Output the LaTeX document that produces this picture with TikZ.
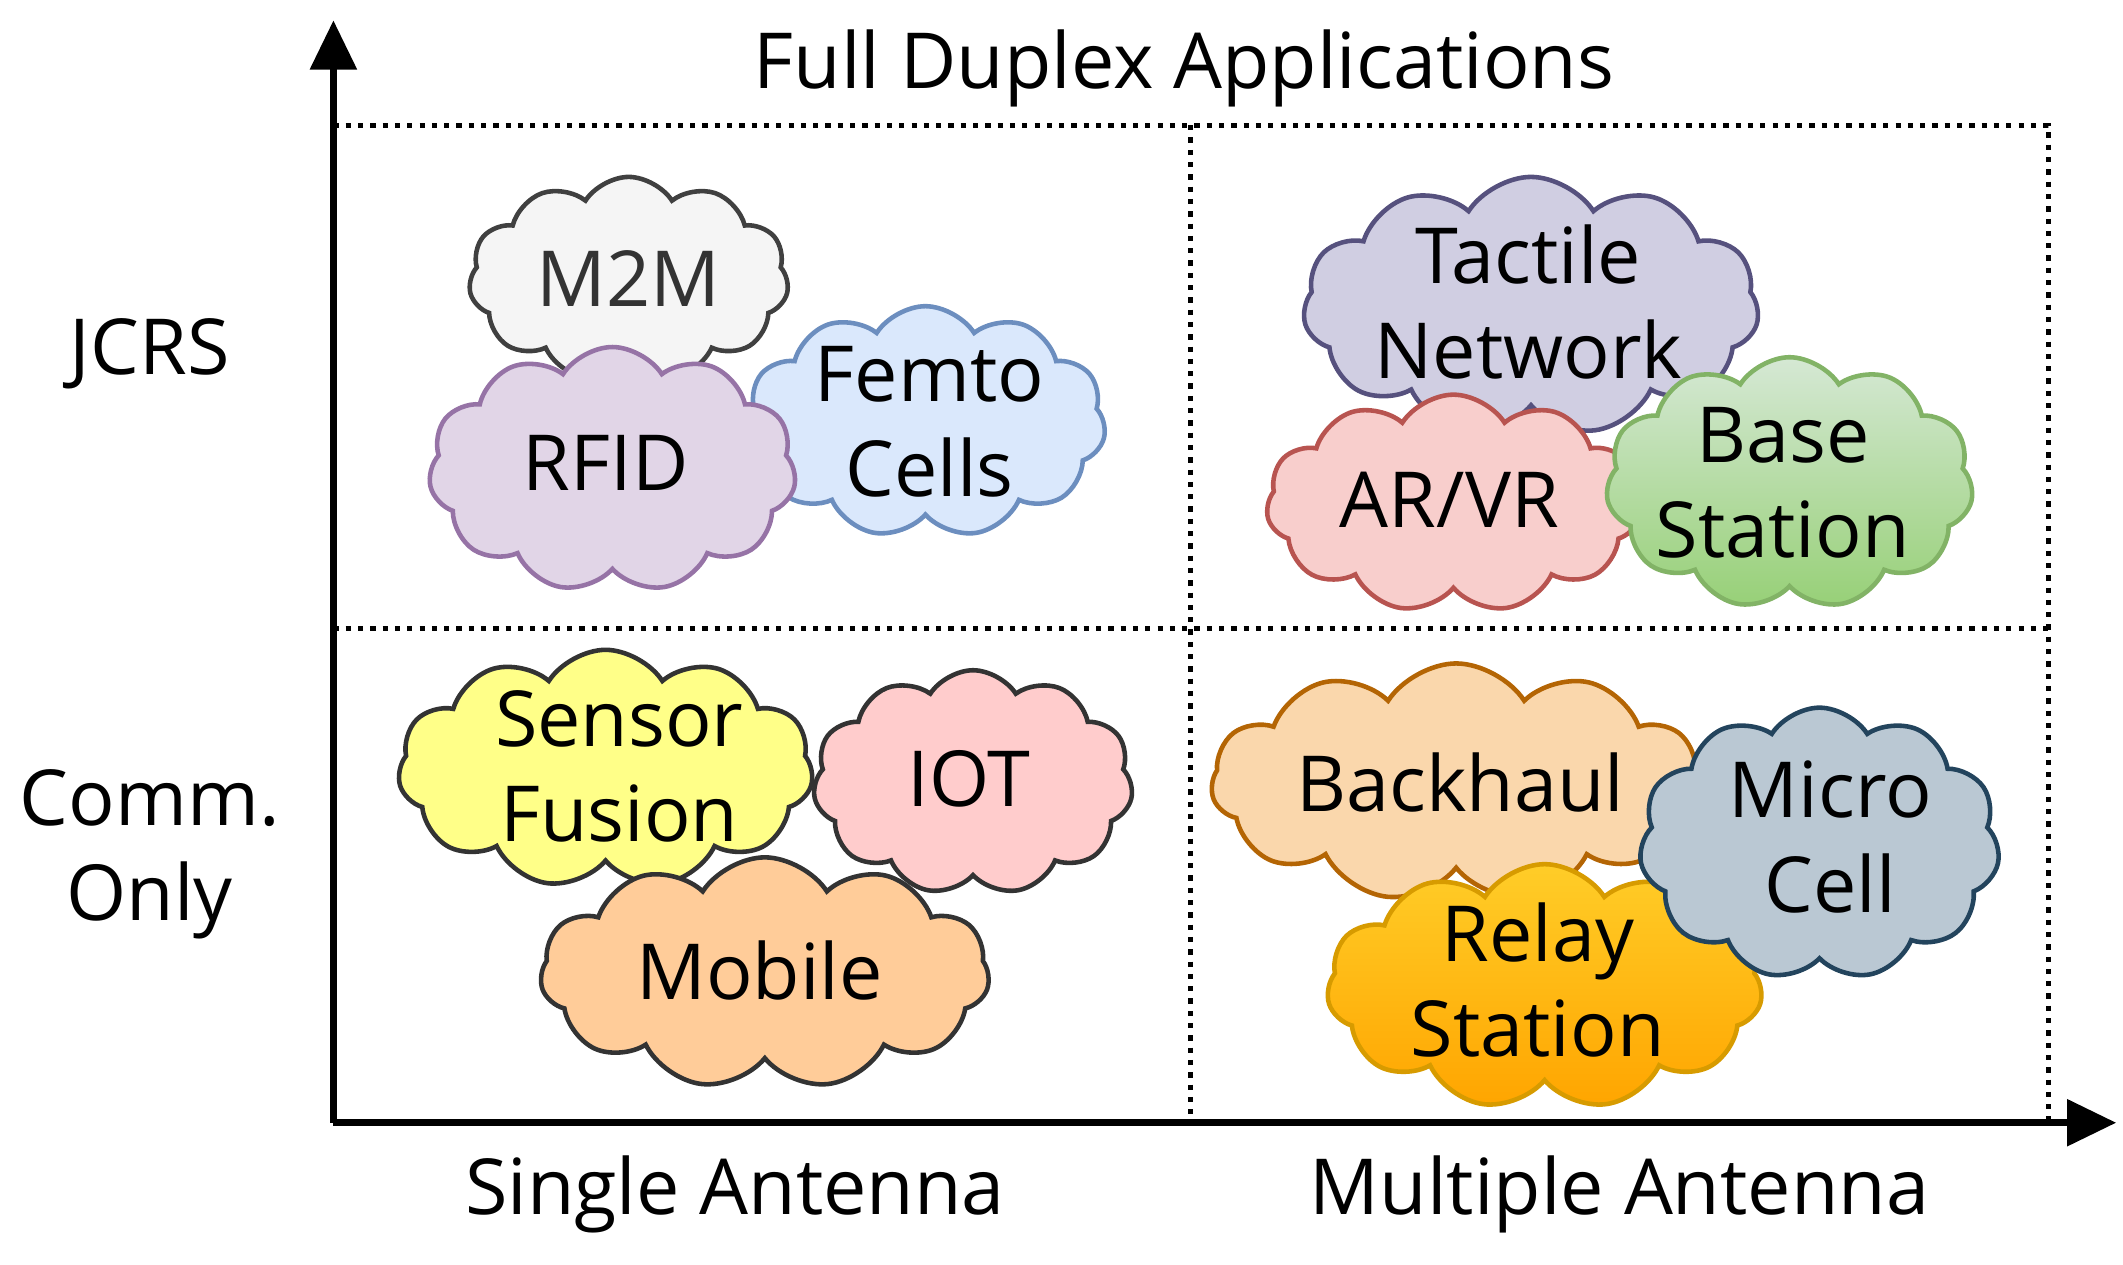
\documentclass[tikz,border=0pt]{standalone}
\usepackage{fontspec}
\setmainfont{Open Sans}
\usetikzlibrary{shapes.symbols,arrows.meta}
\def\u{0.01361cm}
\begin{document}
\begin{tikzpicture}[x=\u,y=-\u,
  cl/.style={cloud,cloud puffs=11,cloud puff arc=115,draw,line width=1.3pt,inner sep=0pt},
  txt/.style={font=\fontsize{22}{27}\selectfont,align=center,text=black},
  dots/.style={dotted,line width=1.5pt,black},
  ax/.style={line width=2pt,-{Triangle[length=14pt,width=13pt]}}]
\useasboundingbox (0,0) rectangle (1560,929);
% grid
\draw[dots] (245,92) -- (1505,92) -- (1505,825);
\draw[dots] (245,462) -- (1505,462);
\draw[dots] (875,92) -- (875,825);
\coordinate (o) at (245,825);
\coordinate (ytop) at (245,15);
\coordinate (xend) at (1555,825);
\draw[ax] (o) -- (ytop);
\draw[ax] (o) -- (xend);
% labels
\node[txt] (title) at (870,50) {Full Duplex Applications};
\node[txt] (jcrs) at (110,260) {JCRS};
\node[txt] (comm) at (110,628) {Comm.\\Only};
\node[txt] (sa) at (540,878) {Single Antenna};
\node[txt] (ma) at (1190,878) {Multiple Antenna};
% clouds top left
\node[cl,fill=gray!8,draw=black!75,minimum width=235*\u,minimum height=150*\u] (m2m) at (462,205) {};
\node[txt,text=black!80] at (m2m) {M2M};
\node[cl,fill=blue!5!cyan!8,fill={rgb,255:red,218;green,232;blue,252},draw={rgb,255:red,108;green,142;blue,191},minimum width=265*\u,minimum height=170*\u] (femto) at (680,310) {};
\node[txt] at (683,310) {Femto\\Cells};
\node[cl,fill={rgb,255:red,225;green,213;blue,231},draw={rgb,255:red,150;green,115;blue,166},minimum width=270*\u,minimum height=180*\u] (rfid) at (450,345) {};
\node[txt] at (445,340) {RFID};
% top right
\node[cl,fill={rgb,255:red,208;green,206;blue,226},draw={rgb,255:red,86;green,81;blue,126},minimum width=335*\u,minimum height=190*\u] (tact) at (1125,225) {};
\node[txt] at (1123,222) {Tactile\\Network};
\node[cl,fill={rgb,255:red,248;green,206;blue,204},draw={rgb,255:red,184;green,84;blue,80},minimum width=275*\u,minimum height=160*\u] (arvr) at (1068,370) {};
\node[txt] at (1065,367) {AR/VR};
\node[cl,top color={rgb,255:red,213;green,232;blue,212},bottom color={rgb,255:red,151;green,208;blue,119},draw={rgb,255:red,130;green,179;blue,102},minimum width=270*\u,minimum height=185*\u] (base) at (1315,355) {};
\node[txt] at (1310,355) {Base\\Station};
% bottom left
\node[cl,fill={rgb,255:red,255;green,255;blue,136},draw=black!80,minimum width=305*\u,minimum height=175*\u] (sens) at (445,565) {};
\node[txt] at (455,563) {Sensor\\Fusion};
\node[cl,fill={rgb,255:red,255;green,204;blue,204},draw=black!80,minimum width=235*\u,minimum height=165*\u] (iot) at (715,575) {};
\node[txt] at (712,572) {IOT};
\node[cl,fill={rgb,255:red,255;green,204;blue,153},draw=black!80,minimum width=330*\u,minimum height=170*\u] (mob) at (562,715) {};
\node[txt] at (558,713) {Mobile};
% bottom right
\node[cl,fill={rgb,255:red,250;green,215;blue,172},draw={rgb,255:red,180;green,101;blue,4},minimum width=360*\u,minimum height=175*\u] (back) at (1070,575) {};
\node[txt] at (1073,575) {Backhaul};
\node[cl,top color={rgb,255:red,255;green,205;blue,40},bottom color={rgb,255:red,255;green,165;blue,0},draw={rgb,255:red,215;green,155;blue,0},minimum width=320*\u,minimum height=180*\u] (relay) at (1135,725) {};
\node[txt] at (1130,720) {Relay\\Station};
\node[cl,fill={rgb,255:red,186;green,200;blue,211},draw={rgb,255:red,35;green,68;blue,93},minimum width=265*\u,minimum height=200*\u] (micro) at (1337,620) {};
\node[txt] at (1345,615) {Micro\\Cell};
\end{tikzpicture}
\end{document}
